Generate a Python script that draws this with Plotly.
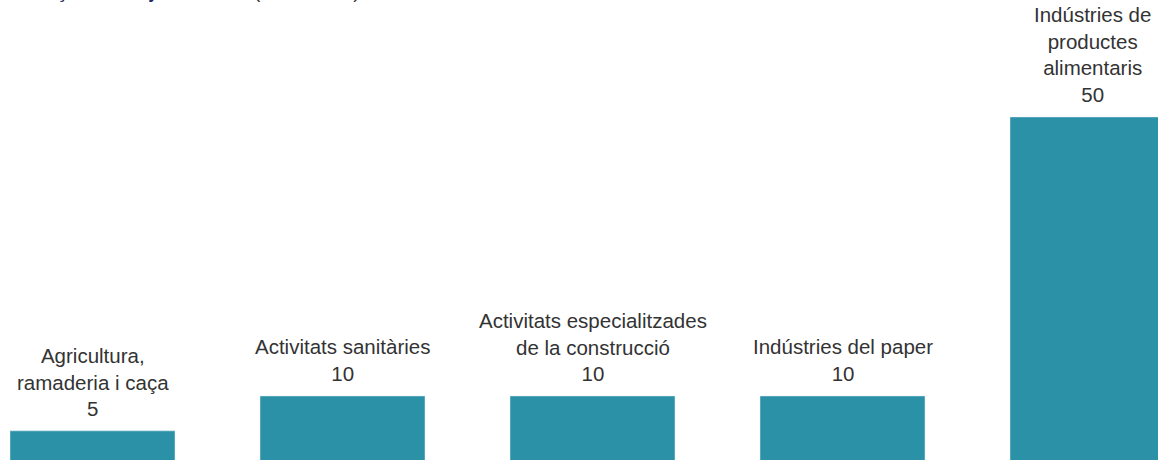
import plotly.graph_objects as go

# Data
categories = [
    "Agricultura,<br>ramaderia i caça",
    "Activitats sanitàries",
    "Activitats especialitzades<br>de la construcció",
    "Indústries del paper",
    "Indústries de<br>productes<br>alimentaris",
]
values = [5, 10, 10, 10, 50]

BAR_COLOR = "#2b91a7"
TEXT_COLOR = "#333333"
FONT = "Liberation Sans, Arial, sans-serif"

x_idx = list(range(len(categories)))

fig = go.Figure()
fig.add_trace(go.Bar(
    x=x_idx,
    y=values,
    marker_color=BAR_COLOR,
    width=0.66,
    hoverinfo="skip",
))

# Category name + value above each bar
for i, (cat, v) in enumerate(zip(categories, values)):
    fig.add_annotation(
        x=i, y=v, xref="x", yref="y",
        text=f"{cat}<br>{v}",
        showarrow=False,
        yanchor="bottom",
        yshift=9,
        font=dict(family=FONT, size=20.5, color=TEXT_COLOR),
        align="center",
    )

# Title cut off by the top of the frame (only descenders visible)
fig.add_annotation(
    x=0, y=1, xref="paper", yref="paper",
    xanchor="left", yanchor="bottom",
    xshift=4, yshift=-4,
    text="<b><span style='color:#1f2a5e'>Finançament i ajuts anuals</span></b> (en milers €)",
    showarrow=False,
    font=dict(family=FONT, size=19, color="#333333"),
)

fig.update_xaxes(
    range=[-0.37, 4.262],
    visible=False,
    showgrid=False,
)
fig.update_yaxes(
    range=[0.82, 66.77],
    visible=False,
    showgrid=False,
)
fig.update_layout(
    width=1158,
    height=460,
    margin=dict(l=0, r=0, t=0, b=0),
    plot_bgcolor="white",
    paper_bgcolor="white",
    showlegend=False,
)

# drop the browser's default 8px body margin so the figure fills the window
fig.write_html(
    "out.html",
    config={"displayModeBar": False},
    post_script="document.body.style.margin='0';",
)
